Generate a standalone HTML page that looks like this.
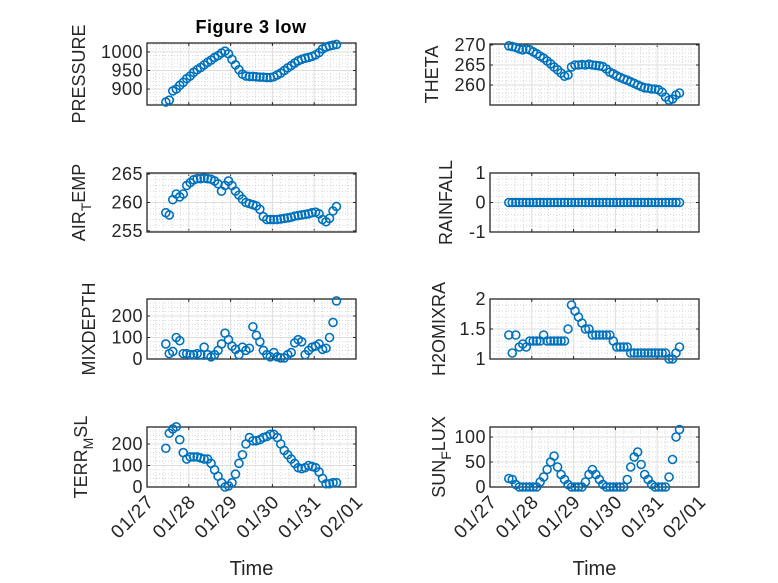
<!DOCTYPE html>
<html><head><meta charset="utf-8"><style>
html,body{margin:0;padding:0;background:#fff;}
svg{display:block;font-family:"Liberation Sans","DejaVu Sans",sans-serif;}
</style></head><body>
<svg id="fig" width="778" height="583" viewBox="0 0 778 583">
<rect width="778" height="583" fill="#fff"/>
<text x="251" y="33" text-anchor="middle" font-size="18" font-weight="bold" letter-spacing="0.5" fill="#000">Figure 3 low</text>
</svg>
<script>
// times: hours since 01/27 10:48 (day 27.45)
const hours = [0,2,4,6,8,10,12,14,16,18,20,22,24,26,28,30,32,34,36,38,40,42,44,46,48,50,52,54,56,58,60,62,64,66,68,70,72,74,76,78,80,82,84,86,88,90,92,94,96,98];
const startDay = 27.45;
const xTickLabels = ["01/27","01/28","01/29","01/30","01/31","02/01"];
const pressure = [865,870,895,900,910,918,928,935,945,952,958,965,972,978,985,990,997,1002,995,980,965,952,940,935,934,934,933,932,932,931,931,933,938,943,950,957,963,970,976,980,983,985,988,992,998,1008,1013,1016,1018,1020];
const theta = [269.8,269.6,269.4,269.0,268.8,269.0,268.8,268.3,267.8,267.2,266.7,266.0,265.3,264.5,263.8,263.0,262.2,262.5,264.5,265.0,265.0,265.1,265.0,265.2,265.0,264.9,264.8,264.6,264.0,263.2,262.8,262.3,261.9,261.5,261.2,260.8,260.4,260.0,259.6,259.3,259.2,259.0,259.0,258.8,258.2,257.0,256.2,256.5,257.5,258.0];
const airTemp = [258.2,257.8,260.5,261.5,261.0,261.5,263.0,263.5,264.0,264.2,264.2,264.3,264.2,264.1,263.8,263.3,262.0,263.0,263.8,263.0,262.0,261.3,260.6,260.0,259.8,259.6,259.4,258.8,257.5,257.0,257.0,257.0,257.0,257.1,257.2,257.3,257.4,257.6,257.7,257.8,257.9,258.0,258.2,258.3,258.0,257.0,256.6,257.2,258.5,259.3];
const rainfall = [0,0,0,0,0,0,0,0,0,0,0,0,0,0,0,0,0,0,0,0,0,0,0,0,0,0,0,0,0,0,0,0,0,0,0,0,0,0,0,0,0,0,0,0,0,0,0,0,0,0];
const mixDepth = [70,25,35,100,85,25,25,20,20,25,20,55,20,10,20,40,70,120,90,60,45,20,55,40,50,150,110,80,40,20,10,30,10,5,5,20,30,75,90,80,20,40,55,60,70,45,50,100,170,270];
const h2oMix = [1.4,1.1,1.4,1.2,1.25,1.2,1.3,1.3,1.3,1.3,1.4,1.3,1.3,1.3,1.3,1.3,1.3,1.5,1.9,1.8,1.7,1.6,1.5,1.5,1.4,1.4,1.4,1.4,1.4,1.4,1.3,1.2,1.2,1.2,1.2,1.1,1.1,1.1,1.1,1.1,1.1,1.1,1.1,1.1,1.1,1.1,1.0,1.0,1.1,1.2];
const terrMsl = [180,250,270,280,220,160,130,140,140,140,135,130,130,110,80,50,20,0,5,20,60,110,150,200,230,215,215,220,230,235,245,245,230,200,170,150,130,110,90,85,90,100,95,90,70,40,15,15,20,20];
const sunFlux = [17,15,5,0,0,0,0,0,0,10,20,35,50,62,40,25,15,5,0,0,0,0,10,25,35,25,15,5,0,0,0,0,0,0,15,40,60,70,45,25,15,5,0,0,0,0,20,55,100,115];

const NS = "http://www.w3.org/2000/svg";
const svg = document.getElementById('fig');
function mk(tag, attrs, parent) {
  const e = document.createElementNS(NS, tag);
  for (const k in attrs) e.setAttribute(k, attrs[k]);
  (parent || svg).appendChild(e);
  return e;
}
const panels = [
  {name:'pressure', data:pressure, x0:147, y0:43, y1:105, ymin:857, ymax:1024, ticks:[900,950,1000], label:['PRESSURE'], loff:62, xl:false},
  {name:'theta', data:theta, x0:490, y0:44, y1:105, ymin:255, ymax:270.25, ticks:[260,265,270], label:['THETA'], loff:52, xl:false},
  {name:'air-temp', data:airTemp, x0:147, y0:173, y1:232, ymin:254.8, ymax:265.2, ticks:[255,260,265], label:['AIR','T','EMP'], loff:62, xl:false},
  {name:'rainfall', data:rainfall, x0:490, y0:173, y1:232, ymin:-1, ymax:1, ticks:[-1,0,1], label:['RAINFALL'], loff:38, xl:false},
  {name:'mixdepth', data:mixDepth, x0:147, y0:299, y1:359, ymin:0, ymax:279, ticks:[0,100,200], label:['MIXDEPTH'], loff:52, xl:false},
  {name:'h2omixra', data:h2oMix, x0:490, y0:299, y1:359, ymin:1, ymax:2, ticks:[1,1.5,2], label:['H2OMIXRA'], loff:45, xl:false},
  {name:'terr-msl', data:terrMsl, x0:147, y0:427, y1:487, ymin:0, ymax:279, ticks:[0,100,200], label:['TERR','M','SL'], loff:60, xl:true},
  {name:'sun-flux', data:sunFlux, x0:490, y0:427, y1:487, ymin:0, ymax:120, ticks:[0,50,100], label:['SUN','F','LUX'], loff:45, xl:true}
];
const W = 209, dayMin = 27, dayMax = 32;
panels.forEach(p => {
  const g = mk('g', {});
  
  
  const xs = d => p.x0 + (d - dayMin) / (dayMax - dayMin) * W;
  const ys = v => p.y1 - (v - p.ymin) / (p.ymax - p.ymin) * (p.y1 - p.y0);
  for (let d = dayMin; d < dayMax; d++) {
    for (let k = 1; k < 5; k++) {
      const x = xs(d + k / 5);
      mk('line', {x1:x, x2:x, y1:p.y0, y2:p.y1, stroke:'#c8c8c8', 'stroke-width':0.7, 'stroke-dasharray':'1 2'}, g);
    }
  }
  const tstep = p.ticks[1] - p.ticks[0];
  for (let v = p.ticks[0] - tstep; v <= p.ticks[p.ticks.length-1] + tstep; v += tstep) {
    for (let k = 1; k < 5; k++) {
      const vv = v + k * tstep / 5;
      if (vv <= p.ymin || vv >= p.ymax) continue;
      const y = ys(vv);
      mk('line', {x1:p.x0, x2:p.x0+W, y1:y, y2:y, stroke:'#c8c8c8', 'stroke-width':0.7, 'stroke-dasharray':'1 2'}, g);
    }
  }
  for (let i = 0; i < xTickLabels.length; i++) {
    const x = xs(dayMin + i);
    mk('line', {x1:x, x2:x, y1:p.y0, y2:p.y1, stroke:'#dedede', 'stroke-width':1}, g);
    mk('line', {x1:x, x2:x, y1:p.y1, y2:p.y1-3, stroke:'#262626', 'stroke-width':1}, g);
    mk('line', {x1:x, x2:x, y1:p.y0, y2:p.y0+3, stroke:'#262626', 'stroke-width':1}, g);
    if (p.xl) {
      const ax = x + 8, ay = p.y1 + 16;
      const t = mk('text', {x:ax, y:ay, 'text-anchor':'end', 'font-size':19, 'letter-spacing':0.8, fill:'#262626', transform:`rotate(-45 ${ax} ${ay})`}, g);
      t.textContent = xTickLabels[i];
      
      
    }
  }
  p.ticks.forEach(v => {
    const y = ys(v);
    mk('line', {x1:p.x0, x2:p.x0+W, y1:y, y2:y, stroke:'#dedede', 'stroke-width':1}, g);
    mk('line', {x1:p.x0, x2:p.x0+3, y1:y, y2:y, stroke:'#262626', 'stroke-width':1}, g);
    mk('line', {x1:p.x0+W, x2:p.x0+W-3, y1:y, y2:y, stroke:'#262626', 'stroke-width':1}, g);
    const t = mk('text', {x:p.x0-4, y:y+6, 'text-anchor':'end', 'font-size':18, 'letter-spacing':0.5, fill:'#262626'}, g);
    t.textContent = String(v);
    
    
  });
  mk('rect', {x:p.x0, y:p.y0, width:W, height:p.y1-p.y0, fill:'none', stroke:'#262626', 'stroke-width':1.3}, g);
  const cy = (p.y0 + p.y1) / 2, lx = p.x0 - p.loff;
  const lab = mk('text', {x:lx, y:cy, 'text-anchor':'middle', 'font-size':18, fill:'#262626', transform:`rotate(-90 ${lx} ${cy})`}, g);
  
  
  if (p.label.length === 1) lab.textContent = p.label[0];
  else {
    const a = mk('tspan', {}, lab); a.textContent = p.label[0];
    const b = mk('tspan', {dy:6, 'font-size':14}, lab); b.textContent = p.label[1];
    const c = mk('tspan', {dy:-6}, lab); c.textContent = p.label[2];
  }
  const mg = mk('g', {}, g);
  
  
  p.data.forEach((v, i) => {
    const c = mk('circle', {cx:xs(startDay + hours[i] / 24), cy:ys(v), r:4, fill:'none', stroke:'#0072BD', 'stroke-width':1.6}, mg);
    
    
  });
  if (p.xl) {
    const t = mk('text', {x:p.x0 + W/2, y:575, 'text-anchor':'middle', 'font-size':20, fill:'#262626'}, g);
    t.textContent = 'Time';
    
    
  }
});
</script>
</body></html>
